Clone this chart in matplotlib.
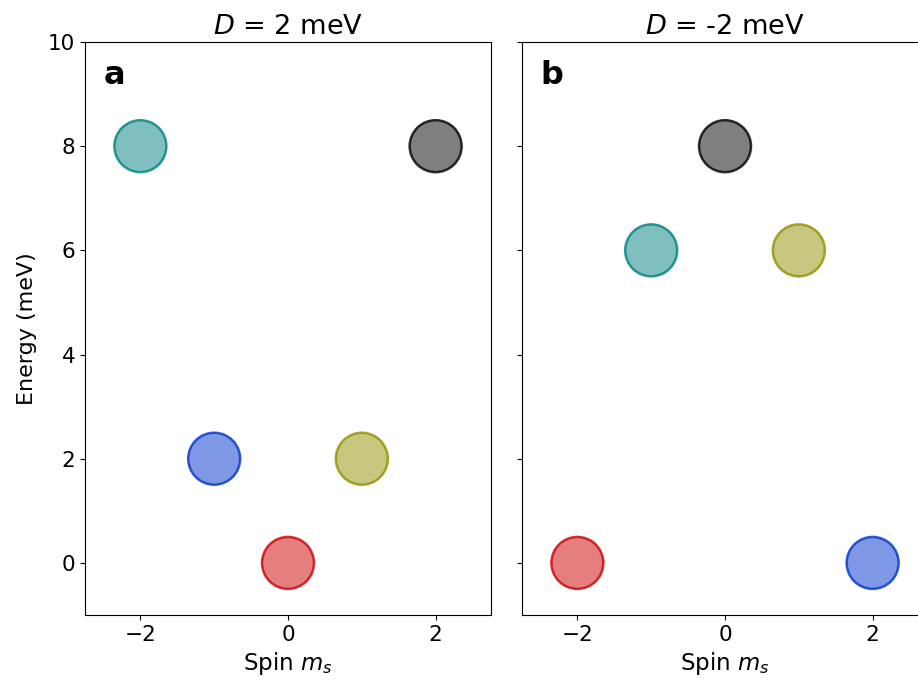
import matplotlib
matplotlib.use("Agg")
import matplotlib.pyplot as plt

spin = [-2, -1, 0, 1, 2]
energy_a = [8, 2, 0, 2, 8]
energy_b = [0, 6, 8, 6, 0]
colors_a = ["#008080", "#0033cc", "#cc0000", "#909000", "#000000"]
colors_b = ["#cc0000", "#008080", "#000000", "#909000", "#0033cc"]
titles = ["$D$ = 2 meV", "$D$ = -2 meV"]
labels = ["a", "b"]

plt.rcParams["font.size"] = 16
plt.rcParams["xtick.labelsize"] = 15.5
plt.rcParams["ytick.labelsize"] = 15.5

fig = plt.figure(figsize=(9.18, 6.85), dpi=100)
W, H = 918, 685
ax1 = fig.add_axes([85 / W, (H - 615) / H, 406 / W, 573 / H])
ax2 = fig.add_axes([522 / W, (H - 615) / H, 406 / W, 573 / H], sharey=ax1)

def rgba(c, a):
    r, g, b, _ = matplotlib.colors.to_rgba(c)
    return (r, g, b, a)

for ax, en, cols, t, lab in [(ax1, energy_a, colors_a, titles[0], labels[0]),
                             (ax2, energy_b, colors_b, titles[1], labels[1])]:
    ax.scatter(spin, en, s=1400, facecolors=[rgba(c, 0.5) for c in cols],
               edgecolors=[rgba(c, 0.8) for c in cols], linewidths=1.8, zorder=3)
    ax.set_xlim(-2.75, 2.75)
    ax.set_ylim(-1, 10)
    ax.set_xticks([-2, 0, 2])
    ax.set_title(t, fontsize=19.5)
    ax.set_xlabel("Spin $m_s$", fontsize=16.5)
    ax.text(0.045, 0.968, lab, transform=ax.transAxes, fontsize=23,
            fontweight="bold", va="top", ha="left")

ax1.set_yticks([0, 2, 4, 6, 8, 10])
ax1.set_ylabel("Energy (meV)", fontsize=16, labelpad=8)
plt.setp(ax2.get_yticklabels(), visible=False)

fig.savefig("out.png", dpi=100)
